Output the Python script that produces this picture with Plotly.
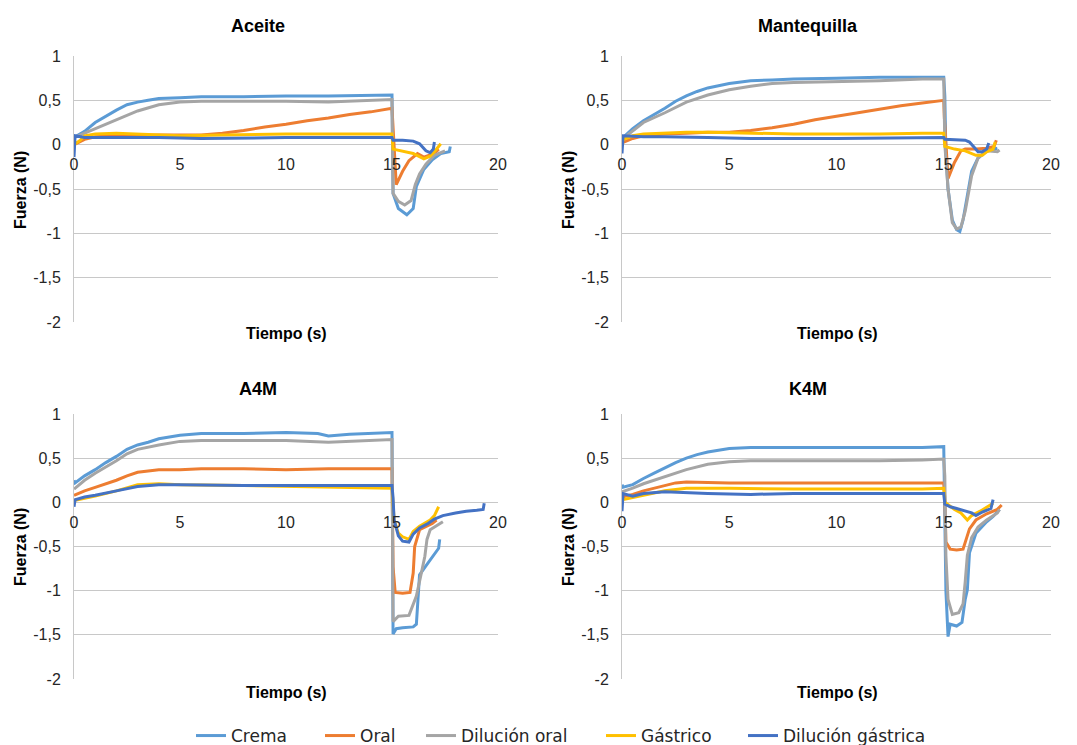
import plotly.graph_objects as go

W, H = 1077, 745

SERIES_NAMES = ["Crema", "Oral", "Dilución oral", "Gástrico", "Dilución gástrica"]
SERIES_COLORS = ["#5B9BD5", "#ED7D31", "#A5A5A5", "#FFC000", "#4472C4"]
PANEL_TITLES = ["Aceite", "Mantequilla", "A4M", "K4M"]
X_TICKS = [0, 5, 10, 15, 20]
Y_TICK_VALS = [-2, -1.5, -1, -0.5, 0, 0.5, 1]
Y_TICK_TEXT = ["-2", "-1,5", "-1", "-0,5", "0", "0,5", "1"]

# ---- Aceite (time s, force N) ----
ACEITE_CREMA = [(0, 0.08), (0.5, 0.15), (1, 0.25), (1.5, 0.32), (2, 0.39), (2.5, 0.45), (3, 0.48), (3.5, 0.5),
                (4, 0.52), (5, 0.53), (6, 0.54), (8, 0.54), (10, 0.55), (12, 0.55), (14, 0.56), (15, 0.56),
                (15.05, -0.55), (15.3, -0.72), (15.7, -0.79), (16.0, -0.72), (16.15, -0.47), (16.5, -0.28),
                (16.9, -0.17), (17.3, -0.1), (17.7, -0.08), (17.75, -0.02)]
ACEITE_ORAL = [(0, 0.0), (0.5, 0.06), (1, 0.09), (2, 0.1), (4, 0.11), (6, 0.11), (7, 0.13), (8, 0.16), (9, 0.2),
               (10, 0.23), (11, 0.27), (12, 0.3), (13, 0.34), (14, 0.37), (15, 0.41), (15.05, 0.2),
               (15.2, -0.45), (15.5, -0.3), (15.8, -0.18), (16.2, -0.1), (16.5, -0.14), (17.0, -0.1),
               (17.2, -0.05)]
ACEITE_DIL_ORAL = [(0, 0.08), (1, 0.18), (2, 0.28), (3, 0.38), (4, 0.45), (5, 0.48), (6, 0.49), (10, 0.49),
                   (12, 0.48), (14, 0.5), (15, 0.51), (15.05, -0.55), (15.3, -0.64), (15.6, -0.68),
                   (15.9, -0.63), (16.1, -0.45), (16.3, -0.33), (16.6, -0.22), (17.0, -0.12), (17.5, -0.07)]
ACEITE_GASTRICO = [(0, 0.0), (0.3, 0.05), (0.5, 0.1), (1, 0.12), (2, 0.13), (3, 0.12), (5, 0.1), (7, 0.11),
                   (10, 0.12), (13, 0.12), (15, 0.12), (15.05, -0.05), (15.5, -0.07), (16.0, -0.1),
                   (16.5, -0.16), (16.8, -0.13), (17.0, -0.08), (17.3, 0.01)]
ACEITE_DIL_GASTRICA = [(0, -0.14), (0.05, 0.1), (0.5, 0.08), (2, 0.08), (4, 0.08), (6, 0.07), (10, 0.08),
                       (14, 0.08), (15, 0.08), (15.05, 0.05), (15.5, 0.05), (16.0, 0.04), (16.3, 0.01),
                       (16.6, -0.07), (16.8, -0.09), (16.95, -0.05), (17.0, 0.03)]

# ---- Mantequilla ----
MANT_CREMA = [(0, 0.07), (0.5, 0.18), (1, 0.27), (1.5, 0.34), (2, 0.41), (2.5, 0.49), (3, 0.55), (3.5, 0.6),
              (4, 0.64), (5, 0.69), (6, 0.72), (7, 0.73), (8, 0.74), (10, 0.75), (12, 0.76), (14, 0.76),
              (15, 0.76), (15.05, 0.55), (15.1, -0.1), (15.2, -0.5), (15.4, -0.85), (15.6, -0.96),
              (15.75, -0.98), (15.9, -0.85), (16.1, -0.55), (16.3, -0.3), (16.6, -0.15), (17.0, -0.07),
              (17.5, -0.04)]
MANT_ORAL = [(0, 0.02), (0.5, 0.07), (1, 0.1), (2, 0.12), (3, 0.13), (4, 0.14), (5, 0.14), (6, 0.16),
             (7, 0.19), (8, 0.23), (9, 0.28), (10, 0.32), (11, 0.36), (12, 0.4), (13, 0.44), (14, 0.47),
             (15, 0.5), (15.03, 0.3), (15.2, -0.38), (15.5, -0.2), (15.8, -0.07), (16.0, -0.05),
             (16.5, -0.05), (17.0, -0.04), (17.35, -0.02), (17.45, 0.05)]
MANT_DIL_ORAL = [(0, 0.06), (0.5, 0.15), (1, 0.25), (2, 0.36), (3, 0.48), (4, 0.56), (5, 0.62), (6, 0.66),
                 (7, 0.69), (8, 0.7), (10, 0.71), (12, 0.72), (14, 0.74), (15, 0.74), (15.05, 0.0),
                 (15.2, -0.5), (15.4, -0.88), (15.6, -0.95), (15.8, -0.93), (16.0, -0.75), (16.3, -0.35),
                 (16.6, -0.15), (17.0, -0.07), (17.5, -0.08), (17.6, -0.06)]
MANT_GASTRICO = [(0, 0.05), (0.5, 0.1), (1, 0.12), (2, 0.13), (3, 0.14), (4, 0.14), (6, 0.13), (8, 0.12),
                 (10, 0.12), (12, 0.12), (14, 0.13), (15, 0.13), (15.05, -0.02), (15.5, -0.05),
                 (16.0, -0.07), (16.5, -0.12), (16.8, -0.12), (17.0, -0.08), (17.3, -0.05), (17.4, 0.03)]
MANT_DIL_GASTRICA = [(0, -0.1), (0.05, 0.1), (1, 0.09), (2, 0.09), (4, 0.08), (6, 0.07), (10, 0.07),
                     (14, 0.08), (15, 0.08), (15.05, 0.06), (16.0, 0.05), (16.2, 0.03), (16.4, -0.03),
                     (16.6, -0.08), (16.8, -0.08), (17.0, -0.05), (17.1, 0.02)]

# ---- A4M ----
A4M_CREMA = [(0, 0.25), (0.05, 0.22), (0.5, 0.3), (1, 0.37), (1.5, 0.45), (2, 0.52), (2.5, 0.6), (3, 0.65),
             (3.5, 0.68), (4, 0.72), (5, 0.76), (6, 0.78), (8, 0.78), (10, 0.79), (11.5, 0.78), (12, 0.75),
             (13, 0.77), (14, 0.78), (15, 0.79), (15.05, -1.49), (15.2, -1.43), (15.5, -1.42),
             (16.0, -1.41), (16.15, -1.38), (16.3, -0.82), (16.6, -0.72), (16.9, -0.62), (17.2, -0.52),
             (17.25, -0.42)]
A4M_ORAL = [(0, 0.08), (0.5, 0.13), (1, 0.17), (2, 0.25), (2.5, 0.3), (3, 0.34), (4, 0.37), (5, 0.37),
            (6, 0.38), (8, 0.38), (10, 0.37), (12, 0.38), (14, 0.38), (15, 0.38), (15.05, -0.73),
            (15.15, -1.02), (15.5, -1.03), (15.85, -1.02), (16.0, -0.8), (16.07, -0.5), (16.3, -0.31),
            (16.9, -0.24), (17.1, -0.2)]
A4M_DIL_ORAL = [(0, 0.15), (0.5, 0.25), (1, 0.33), (1.5, 0.4), (2, 0.47), (2.5, 0.55), (3, 0.6), (4, 0.65),
                (5, 0.69), (6, 0.7), (8, 0.7), (10, 0.7), (12, 0.68), (14, 0.7), (15, 0.71), (15.05, -1.35),
                (15.3, -1.29), (15.8, -1.28), (16.15, -1.06), (16.35, -0.84), (16.55, -0.61),
                (16.65, -0.42), (16.8, -0.31), (17.4, -0.22)]
A4M_GASTRICO = [(0, 0.02), (1, 0.07), (2, 0.13), (3, 0.2), (4, 0.21), (5, 0.2), (8, 0.19), (10, 0.18),
                (12, 0.17), (14, 0.16), (15, 0.16), (15.1, -0.2), (15.3, -0.35), (15.5, -0.39),
                (15.8, -0.42), (16.0, -0.33), (16.3, -0.27), (16.8, -0.2), (17.0, -0.15), (17.2, -0.05)]
A4M_DIL_GASTRICA = [(0, -0.05), (0.05, 0.03), (0.5, 0.06), (1, 0.08), (2, 0.13), (3, 0.18), (4, 0.2),
                    (5, 0.2), (8, 0.19), (10, 0.19), (12, 0.19), (14, 0.19), (15, 0.19), (15.05, 0.05),
                    (15.1, -0.2), (15.3, -0.38), (15.5, -0.44), (15.8, -0.45), (16.0, -0.36), (16.3, -0.29),
                    (16.7, -0.24), (17.0, -0.19), (17.4, -0.15), (18.0, -0.12), (18.5, -0.1), (19.0, -0.09),
                    (19.3, -0.08), (19.35, -0.01)]

# ---- K4M ----
K4M_CREMA = [(0, 0.2), (0.05, 0.17), (0.5, 0.2), (1, 0.27), (1.5, 0.33), (2, 0.39), (2.5, 0.45), (3, 0.5),
             (3.5, 0.54), (4, 0.57), (5, 0.61), (6, 0.62), (8, 0.62), (10, 0.62), (12, 0.62), (14, 0.62),
             (15, 0.63), (15.1, -1.0), (15.2, -1.52), (15.3, -1.38), (15.6, -1.4), (15.85, -1.36),
             (16.0, -1.1), (16.1, -0.99), (16.2, -0.57), (16.5, -0.35), (17.0, -0.22), (17.3, -0.16),
             (17.6, -0.08)]
K4M_ORAL = [(0, 0.06), (0.5, 0.09), (1, 0.13), (2, 0.19), (2.5, 0.22), (3, 0.23), (5, 0.22), (8, 0.22),
            (10, 0.22), (12, 0.22), (14, 0.22), (15, 0.22), (15.05, 0.05), (15.1, -0.45), (15.3, -0.53),
            (15.6, -0.54), (15.9, -0.53), (16.0, -0.45), (16.2, -0.3), (16.5, -0.2), (17.0, -0.13),
            (17.5, -0.08), (17.7, -0.03)]
K4M_DIL_ORAL = [(0, 0.12), (0.5, 0.16), (1, 0.21), (2, 0.29), (3, 0.37), (4, 0.43), (5, 0.46), (6, 0.47),
                (8, 0.47), (10, 0.47), (12, 0.47), (14, 0.48), (15, 0.49), (15.05, 0.3), (15.1, -0.6),
                (15.2, -1.1), (15.4, -1.27), (15.7, -1.25), (15.9, -1.15), (16.0, -0.9), (16.1, -0.6),
                (16.3, -0.4), (16.6, -0.28), (17.0, -0.2), (17.5, -0.12), (17.6, -0.08)]
K4M_GASTRICO = [(0, 0.03), (1, 0.08), (2, 0.13), (3, 0.16), (5, 0.16), (8, 0.15), (10, 0.15), (12, 0.15),
                (14, 0.15), (15, 0.16), (15.05, 0.0), (15.5, -0.08), (15.8, -0.12), (16.1, -0.2),
                (16.3, -0.15), (16.7, -0.1), (17.0, -0.05), (17.3, -0.01)]
K4M_DIL_GASTRICA = [(0, -0.1), (0.05, 0.1), (0.5, 0.07), (1, 0.1), (2, 0.12), (3, 0.11), (4, 0.1), (6, 0.09),
                    (8, 0.1), (10, 0.1), (12, 0.1), (14, 0.1), (15, 0.1), (15.05, -0.02), (15.3, -0.05),
                    (15.6, -0.07), (16.0, -0.1), (16.3, -0.12), (16.5, -0.15), (16.8, -0.11), (17.2, -0.07),
                    (17.3, 0.03)]

PANEL_DATA = [
    [ACEITE_CREMA, ACEITE_ORAL, ACEITE_DIL_ORAL, ACEITE_GASTRICO, ACEITE_DIL_GASTRICA],
    [MANT_CREMA, MANT_ORAL, MANT_DIL_ORAL, MANT_GASTRICO, MANT_DIL_GASTRICA],
    [A4M_CREMA, A4M_ORAL, A4M_DIL_ORAL, A4M_GASTRICO, A4M_DIL_GASTRICA],
    [K4M_CREMA, K4M_ORAL, K4M_DIL_ORAL, K4M_GASTRICO, K4M_DIL_GASTRICA],
]

# ---- layout geometry (pixels) ----
PLOT_X = [(74, 498), (622, 1051), (74, 498), (622, 1051)]
PLOT_Y = [(56, 322), (56, 322), (414, 679), (414, 679)]
TITLE_POS = [(258, 26), (808, 26), (258, 389), (808, 389)]
XTITLE_POS = [(286, 334), (837, 334), (286, 692), (837, 692)]
YTITLE_POS = [(20, 190), (568, 190), (20, 547), (568, 547)]
LEGEND_X = [191, 320, 421, 601, 743]   # left edge of each legend entry
LEGEND_Y = 736

def px(x):
    return x / W

def py(y):
    return 1 - y / H

FONT = "Liberation Sans, Arial, sans-serif"
LEG_FONT = "DejaVu Sans, Liberation Sans, sans-serif"
TXT = "#262626"
GRID = "#C8C8C8"

fig = go.Figure()
layout = dict(
    width=W, height=H, margin=dict(l=0, r=0, t=0, b=0, autoexpand=False),
    paper_bgcolor="white", plot_bgcolor="white",
    font=dict(family=FONT, size=16, color=TXT),
    showlegend=True,
)
legend_keys = ["legend"] + ["legend%d" % (k + 1) for k in range(1, len(SERIES_NAMES))]
for k, key in enumerate(legend_keys):
    layout[key] = dict(orientation="h", x=px(LEGEND_X[k]), xanchor="left", y=py(LEGEND_Y), yanchor="middle",
                       font=dict(size=17, color=TXT, family=LEG_FONT), bgcolor="rgba(0,0,0,0)",
                       borderwidth=0, itemwidth=30)

annotations = []
for i in range(4):
    ax = "" if i == 0 else str(i + 1)
    x0, x1 = PLOT_X[i]
    y0, y1 = PLOT_Y[i]
    ydom = [py(y1), py(y0)]
    yzero_paper = ydom[0] + (0 - Y_TICK_VALS[0]) / (Y_TICK_VALS[-1] - Y_TICK_VALS[0]) * (ydom[1] - ydom[0])
    layout["xaxis" + ax] = dict(
        domain=[px(x0), px(x1)], range=[0, 20], anchor="free", position=yzero_paper,
        tickvals=X_TICKS, ticktext=[str(v) for v in X_TICKS],
        showgrid=False, zeroline=False, showline=False,
        ticks="outside", ticklen=5, tickcolor="rgba(0,0,0,0)",
        tickfont=dict(size=16, color=TXT, family=FONT), fixedrange=True,
    )
    layout["yaxis" + ax] = dict(
        domain=ydom, range=[-2, 1], anchor="x" + ax,
        tickvals=Y_TICK_VALS, ticktext=Y_TICK_TEXT,
        showgrid=True, gridcolor=GRID, gridwidth=1, zeroline=False,
        showline=True, linecolor=GRID, linewidth=1,
        ticks="outside", ticklen=9, tickcolor="rgba(0,0,0,0)",
        tickfont=dict(size=16, color=TXT, family=FONT), fixedrange=True,
    )
    for s, pts in enumerate(PANEL_DATA[i]):
        fig.add_trace(go.Scatter(
            x=[p[0] for p in pts], y=[p[1] for p in pts], mode="lines",
            name=SERIES_NAMES[s], legendgroup=SERIES_NAMES[s], showlegend=(i == 0),
            legend=legend_keys[s],
            line=dict(color=SERIES_COLORS[s], width=3),
            xaxis="x" + ax, yaxis="y" + ax,
        ))
    tx, ty = TITLE_POS[i]
    annotations.append(dict(text="<b>%s</b>" % PANEL_TITLES[i], x=px(tx), y=py(ty), xref="paper", yref="paper",
                            showarrow=False, font=dict(size=18, color="#000000", family=FONT),
                            xanchor="center", yanchor="middle"))
    tx, ty = XTITLE_POS[i]
    annotations.append(dict(text="<b>Tiempo (s)</b>", x=px(tx), y=py(ty), xref="paper", yref="paper",
                            showarrow=False, font=dict(size=16, color="#000000", family=FONT),
                            xanchor="center", yanchor="middle"))
    tx, ty = YTITLE_POS[i]
    annotations.append(dict(text="<b>Fuerza (N)</b>", x=px(tx), y=py(ty), xref="paper", yref="paper",
                            showarrow=False, textangle=-90, font=dict(size=16, color="#000000", family=FONT),
                            xanchor="center", yanchor="middle"))

layout["annotations"] = annotations
fig.update_layout(**layout)
fig.write_html(
    "out.html",
    config={"displayModeBar": False},
    post_script="document.body.style.margin='0';document.body.style.overflow='hidden';",
)
